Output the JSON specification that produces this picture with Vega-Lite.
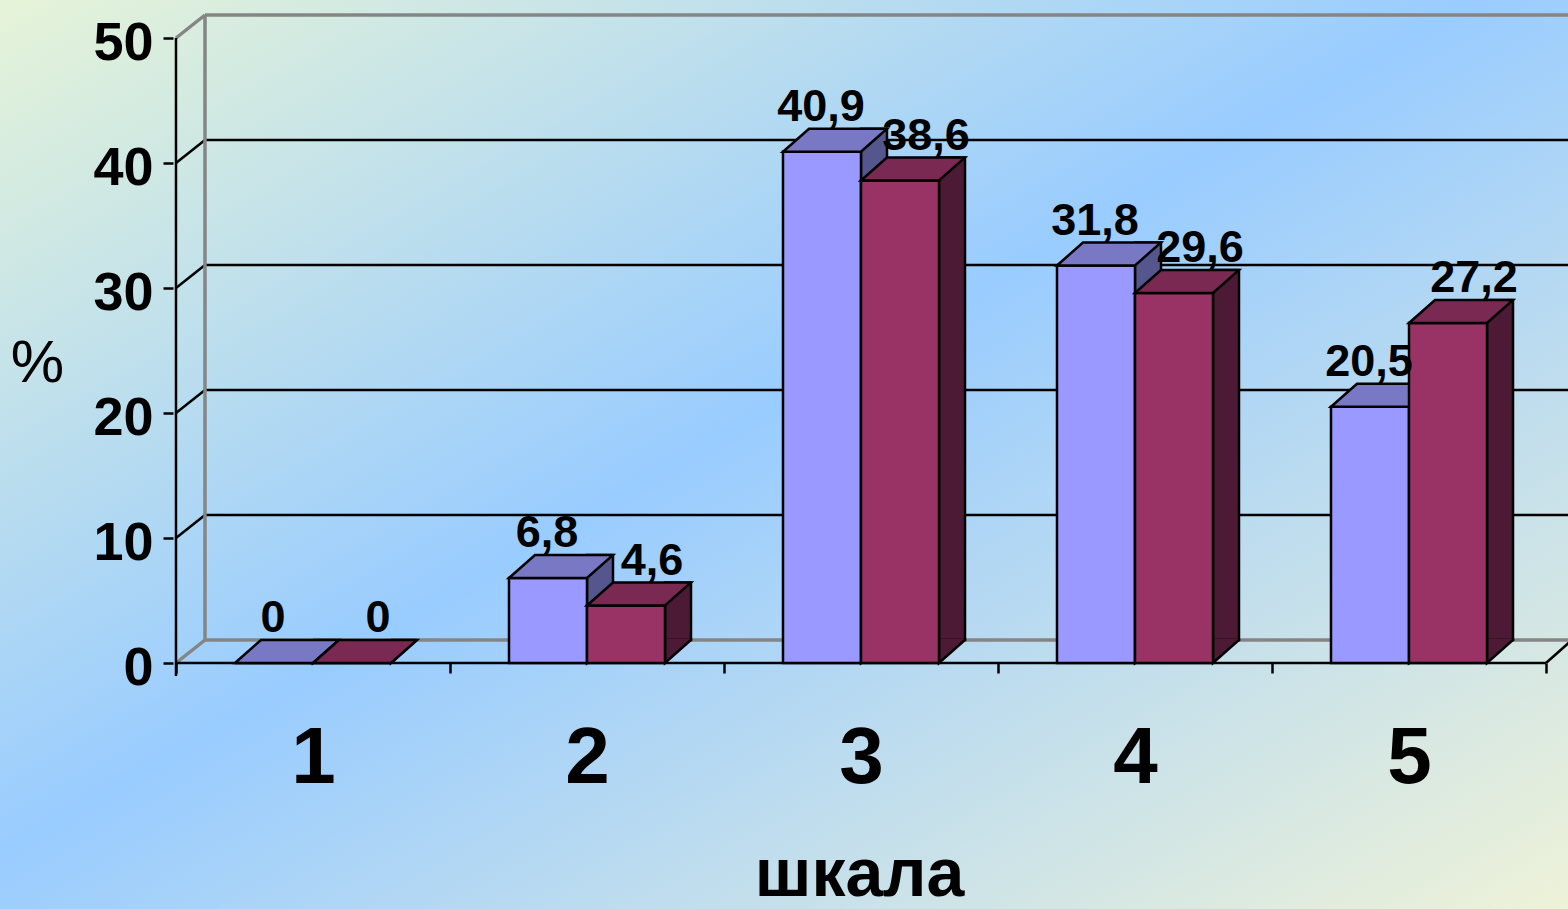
{
  "$schema": "https://vega.github.io/schema/vega-lite/v6.json",
  "width": 1568,
  "height": 909,
  "autosize": {"type": "none"},
  "padding": 0,
  "background": "#bcdcf0",
  "config": {
    "view": {
      "stroke": null,
      "fill": {"gradient": "linear", "x1": 0, "y1": 0, "x2": 1, "y2": 1,
        "stops": [
          {"offset": 0, "color": "#e6f4d8"},
          {"offset": 0.47, "color": "#99ccff"},
          {"offset": 1, "color": "#eef2d8"}
        ]}
    },
    "locale": {"number": {"decimal": ",", "thousands": " ", "grouping": [3], "currency": ["", ""]}},
    "font": "Liberation Sans"
  },
  "datasets": {
    "bars": [
      {"cat": 1, "series": "s1", "value": 0},
      {"cat": 1, "series": "s2", "value": 0},
      {"cat": 2, "series": "s1", "value": 6.8},
      {"cat": 2, "series": "s2", "value": 4.6},
      {"cat": 3, "series": "s1", "value": 40.9},
      {"cat": 3, "series": "s2", "value": 38.6},
      {"cat": 4, "series": "s1", "value": 31.8},
      {"cat": 4, "series": "s2", "value": 29.6},
      {"cat": 5, "series": "s1", "value": 20.5},
      {"cat": 5, "series": "s2", "value": 27.2}
    ],
    "grid": [{"v": 10}, {"v": 20}, {"v": 30}, {"v": 40}],
    "edges": [{"v": 0}, {"v": 50}],
    "one": [{"k": 1}]
  },
  "layer": [
    {
      "data": {"name": "grid"},
      "mark": {"type": "rule", "color": "black", "strokeWidth": 2.5, "xOffset": 29, "yOffset": -23},
      "encoding": {
        "x": {"datum": 0.5, "type": "quantitative"},
        "x2": {"datum": 5.6},
        "y": {"field": "v", "type": "quantitative"}
      }
    },
    {
      "data": {"name": "grid"},
      "mark": {"type": "rule", "color": "black", "strokeWidth": 2.5, "x2Offset": 29, "y2Offset": -23},
      "encoding": {
        "x": {"datum": 0.5, "type": "quantitative"},
        "x2": {"datum": 0.5},
        "y": {"field": "v", "type": "quantitative"},
        "y2": {"field": "v"}
      }
    },
    {
      "data": {"name": "edges"},
      "mark": {"type": "rule", "color": "#858585", "strokeWidth": 3.5, "xOffset": 29, "yOffset": -23},
      "encoding": {
        "x": {"datum": 0.5, "type": "quantitative"},
        "x2": {"datum": 5.6},
        "y": {"field": "v", "type": "quantitative"}
      }
    },
    {
      "data": {"name": "edges"},
      "mark": {"type": "rule", "color": "#858585", "strokeWidth": 3.5, "x2Offset": 29, "y2Offset": -23},
      "encoding": {
        "x": {"datum": 0.5, "type": "quantitative"},
        "x2": {"datum": 0.5},
        "y": {"field": "v", "type": "quantitative"},
        "y2": {"field": "v"}
      }
    },
    {
      "data": {"name": "one"},
      "mark": {"type": "rule", "color": "#858585", "strokeWidth": 3.5, "xOffset": 29, "yOffset": -23, "y2Offset": -23},
      "encoding": {
        "x": {"datum": 0.5, "type": "quantitative"},
        "y": {"datum": 0, "type": "quantitative"},
        "y2": {"datum": 50}
      }
    },
    {
      "data": {"name": "one"},
      "mark": {"type": "rule", "color": "black", "strokeWidth": 2.5, "y2Offset": 13},
      "encoding": {
        "x": {"datum": 0.5, "type": "quantitative"},
        "y": {"datum": 50, "type": "quantitative"},
        "y2": {"datum": 0}
      }
    },
    {
      "data": {"name": "one"},
      "mark": {"type": "rule", "color": "black", "strokeWidth": 2.5},
      "encoding": {
        "x": {"datum": 0.5, "type": "quantitative"},
        "x2": {"datum": 5.5},
        "y": {"datum": 0, "type": "quantitative"}
      }
    },
    {
      "data": {"name": "one"},
      "mark": {"type": "rule", "color": "black", "strokeWidth": 2.5, "x2Offset": 26, "y2Offset": -23},
      "encoding": {
        "x": {"datum": 5.5, "type": "quantitative"},
        "x2": {"datum": 5.5},
        "y": {"datum": 0, "type": "quantitative"},
        "y2": {"datum": 0}
      }
    },
    {
      "data": {"name": "bars"},
      "transform": [{"filter": "datum.series === 's1'"}],
      "mark": {"type": "rect", "fill": "#56568f", "stroke": "black", "strokeWidth": 2.5, "xOffset": 0, "x2Offset": 26, "yOffset": -23, "y2Offset": -23},
      "encoding": {
        "x": {"field": "cat", "type": "quantitative"},
        "x2": {"field": "cat"},
        "y": {"field": "value", "type": "quantitative"},
        "y2": {"datum": 0}
      }
    },
    {
      "data": {"name": "bars"},
      "transform": [{"filter": "datum.series === 's1'"}],
      "mark": {"type": "point", "shape": "M 26 -24 L 26 -23 L 0 0 L 0 -24", "size": 4, "filled": true, "fill": "#56568f", "stroke": "black", "strokeWidth": 2.5, "opacity": 1},
      "encoding": {
        "x": {"field": "cat", "type": "quantitative"},
        "y": {"datum": 0, "type": "quantitative"}
      }
    },
    {
      "data": {"name": "bars"},
      "transform": [{"filter": "datum.series === 's1'"}],
      "mark": {"type": "rect", "fill": "#9999ff", "stroke": "black", "strokeWidth": 2.5, "xOffset": -78, "x2Offset": 0},
      "encoding": {
        "x": {
          "field": "cat", "type": "quantitative",
          "scale": {"domain": [-0.1423, 5.5803], "nice": false, "zero": false},
          "axis": {
            "values": [0.5, 1, 1.5, 2, 2.5, 3, 3.5, 4, 4.5, 5, 5.5],
            "format": "~g",
            "labelExpr": "datum.value % 1 === 0 ? datum.label : ''",
            "tickOpacity": {"condition": {"test": "datum.value % 1 === 0", "value": 0}, "value": 1},
            "domain": false, "grid": false, "offset": -246,
            "tickSize": 10, "tickWidth": 2.5, "tickColor": "black",
            "labelFont": "Liberation Sans", "labelFontSize": 80, "labelFontWeight": "bold", "labelColor": "black",
            "labelBaseline": "alphabetic", "labelPadding": 109, "labelFlush": false, "labelOverlap": false,
            "title": "шкала", "titleX": 859, "titleY": 232, "titleBaseline": "alphabetic", "titleAlign": "center",
            "titleFont": "Liberation Sans", "titleFontSize": 68, "titleFontWeight": "bold", "titleColor": "black"
          }
        },
        "x2": {"field": "cat"},
        "y": {
          "field": "value", "type": "quantitative",
          "scale": {"domain": [-19.68, 53.04], "nice": false, "zero": false},
          "axis": {
            "values": [0, 10, 20, 30, 40, 50],
            "domain": false, "grid": false, "offset": -173,
            "tickSize": 10, "tickWidth": 2.5, "tickColor": "black",
            "labelFont": "Liberation Sans", "labelFontSize": 54, "labelFontWeight": "bold", "labelColor": "black",
            "labelPadding": 10, "labelOffset": 5,
            "title": "%", "titleAngle": 0, "titleX": -136, "titleY": 381, "titleBaseline": "alphabetic", "titleAlign": "center",
            "titleFont": "Liberation Sans", "titleFontSize": 60, "titleFontWeight": "normal", "titleColor": "black"
          }
        },
        "y2": {"datum": 0}
      }
    },
    {
      "data": {"name": "bars"},
      "transform": [{"filter": "datum.series === 's1'"}],
      "mark": {"type": "point", "shape": "M -78 0 L -52 -23 L 26 -23 L 0 0 Z", "size": 4, "filled": true, "fill": "#7878c4", "stroke": "black", "strokeWidth": 2.5, "opacity": 1},
      "encoding": {
        "x": {"field": "cat", "type": "quantitative"},
        "y": {"field": "value", "type": "quantitative"}
      }
    },
    {
      "data": {"name": "bars"},
      "transform": [{"filter": "datum.series === 's2'"}],
      "mark": {"type": "rect", "fill": "#4d1a35", "stroke": "black", "strokeWidth": 2.5, "xOffset": 78, "x2Offset": 104, "yOffset": -23, "y2Offset": -23},
      "encoding": {
        "x": {"field": "cat", "type": "quantitative"},
        "x2": {"field": "cat"},
        "y": {"field": "value", "type": "quantitative"},
        "y2": {"datum": 0}
      }
    },
    {
      "data": {"name": "bars"},
      "transform": [{"filter": "datum.series === 's2'"}],
      "mark": {"type": "point", "shape": "M 104 -24 L 104 -23 L 78 0 L 78 -24", "size": 4, "filled": true, "fill": "#4d1a35", "stroke": "black", "strokeWidth": 2.5, "opacity": 1},
      "encoding": {
        "x": {"field": "cat", "type": "quantitative"},
        "y": {"datum": 0, "type": "quantitative"}
      }
    },
    {
      "data": {"name": "bars"},
      "transform": [{"filter": "datum.series === 's2'"}],
      "mark": {"type": "rect", "fill": "#993366", "stroke": "black", "strokeWidth": 2.5, "xOffset": 0, "x2Offset": 78},
      "encoding": {
        "x": {"field": "cat", "type": "quantitative"},
        "x2": {"field": "cat"},
        "y": {"field": "value", "type": "quantitative"},
        "y2": {"datum": 0}
      }
    },
    {
      "data": {"name": "bars"},
      "transform": [{"filter": "datum.series === 's2'"}],
      "mark": {"type": "point", "shape": "M 0 0 L 26 -23 L 104 -23 L 78 0 Z", "size": 4, "filled": true, "fill": "#7a2a52", "stroke": "black", "strokeWidth": 2.5, "opacity": 1},
      "encoding": {
        "x": {"field": "cat", "type": "quantitative"},
        "y": {"field": "value", "type": "quantitative"}
      }
    },
    {
      "data": {"name": "bars"},
      "transform": [{"filter": "datum.series === 's1'"}],
      "mark": {"type": "text", "xOffset": -40, "yOffset": -31, "baseline": "alphabetic", "align": "center", "fontSize": 45, "fontWeight": "bold", "color": "black", "font": "Liberation Sans"},
      "encoding": {
        "x": {"field": "cat", "type": "quantitative"},
        "y": {"field": "value", "type": "quantitative"},
        "text": {"field": "value", "type": "quantitative", "format": "~g"}
      }
    },
    {
      "data": {"name": "bars"},
      "transform": [{"filter": "datum.series === 's2'"}],
      "mark": {"type": "text", "xOffset": 65, "yOffset": -31, "baseline": "alphabetic", "align": "center", "fontSize": 45, "fontWeight": "bold", "color": "black", "font": "Liberation Sans"},
      "encoding": {
        "x": {"field": "cat", "type": "quantitative"},
        "y": {"field": "value", "type": "quantitative"},
        "text": {"field": "value", "type": "quantitative", "format": "~g"}
      }
    }
  ]
}
